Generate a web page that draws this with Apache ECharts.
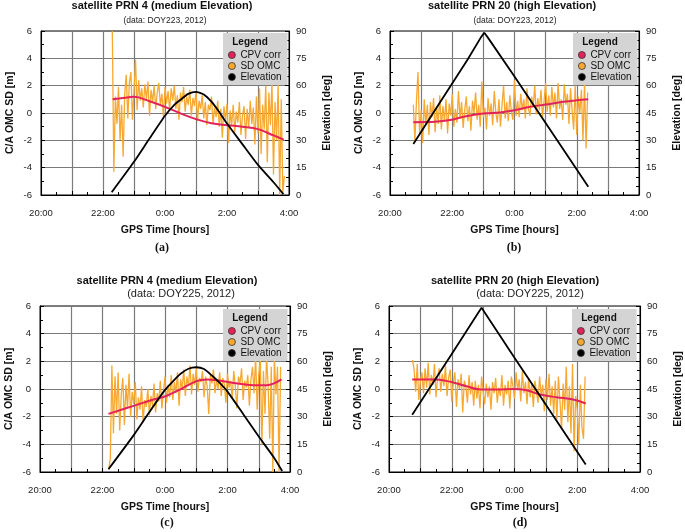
<!DOCTYPE html>
<html><head><meta charset="utf-8">
<script src="https://cdn.jsdelivr.net/npm/echarts@6/dist/echarts.min.js"></script>
<style>html,body{margin:0;padding:0;background:#fff}#c{width:685px;height:532px}</style>
</head><body><div id="c"></div>
<script>
// ---------- data ----------
const xTickLabels = ['20:00','','22:00','','0:00','','2:00','','4:00'];
const xMinHour = -4;
const panelTitles = ['satellite PRN 4 (medium Elevation)','satellite PRN 20 (high Elevation)','satellite PRN 4 (medium Elevation)','satellite PRN 20 (high Elevation)'];
const panelSubtitles = ['(data: DOY223, 2012)','(data: DOY223, 2012)','(data: DOY225, 2012)','(data: DOY225, 2012)'];
const panelCaptions = ['(a)','(b)','(c)','(d)'];
const seriesNames = ['CPV corr','SD OMC','Elevation'];
const omcStep = 0.05;

// panel (a)
const omcAStart = -1.70;
const omcA = [6.0,-4.3,1.2,-0.8,1.9,-2.0,0.6,-3.2,1.4,2.8,
 -0.4,2.2,3.0,-0.5,1.6,3.9,0.2,2.4,0.9,1.8,
 0.4,2.1,1.0,2.3,-0.2,1.7,0.8,2.0,0.3,1.5,
 2.2,0.6,1.4,-0.3,1.9,0.7,1.6,0.2,1.8,0.9,
 2.0,0.3,1.3,-0.5,1.5,0.8,1.9,0.1,1.2,0.6,
 1.7,-0.2,1.1,0.5,1.6,-0.6,0.9,0.3,1.3,-0.4,
 0.8,-0.9,0.6,0.2,1.2,-0.8,0.4,-0.3,0.9,-1.0,
 0.3,-1.8,0.5,-0.6,0.7,-2.2,0.2,-0.9,0.6,-1.4,
 0.1,-0.7,0.8,-1.6,-0.2,0.5,-1.9,0.3,-1.1,0.9,
 -0.8,0.4,-2.3,1.2,-1.5,1.8,-3.0,0.6,-1.2,2.0,
 -3.6,1.5,-0.9,2.2,-4.5,0.8,-2.0,2.1,-6.0,1.0,
 -5.8,-4.6];
const cpvA = [[-1.69,1.0],[-1.3,1.12],[-1.0,1.18],[-0.5,0.86],[0,0.45],[0.5,-0.03],[1.0,-0.45],[1.5,-0.75],[2.0,-0.89],[2.5,-1.0],[3.0,-1.18],[3.5,-1.64],[3.83,-1.95]];
const elevA = [[-1.72,1.5],[-1,18.2],[-0.5,31],[0,43.5],[0.3,49.5],[0.5,52.3],[0.75,55.5],[1.0,56.6],[1.25,55.2],[1.5,51.2],[1.75,45.5],[2.0,39.2],[2.5,27.8],[3.0,16.5],[3.5,7],[3.82,0.5]];

// panel (b)
const omcBStart = -3.25;
const omcB = [0.6,-2.1,0.9,3.0,-1.5,0.2,-2.2,1.0,-0.9,0.6,
 -1.6,0.8,-0.3,1.1,-1.4,0.4,-0.8,1.3,-1.2,0.5,
 -0.6,1.0,-1.5,0.7,-0.2,1.4,-1.0,0.3,-0.7,1.6,
 -0.4,0.8,-1.1,0.2,1.2,-0.6,0.5,-1.3,0.9,0.0,
 1.5,-0.5,0.6,-1.0,2.3,-0.3,0.4,-1.2,1.1,-0.2,
 0.7,-0.9,1.6,0.0,-0.7,1.0,-1.0,0.6,2.0,-0.4,
 0.8,-0.6,1.3,0.1,-0.5,2.4,-0.2,0.9,-0.3,1.4,
 0.2,1.0,-0.4,1.8,0.3,-0.2,1.2,0.4,2.0,-0.1,
 1.1,0.2,1.7,-0.3,0.9,2.2,0.1,1.3,-0.2,1.9,
 0.4,1.5,-0.4,2.2,0.3,1.0,-0.5,2.1,0.6,1.4,
 -0.8,1.8,0.2,-1.2,2.0,-1.6,1.2,0.0,1.7,-2.0,
 2.2,-2.6,1.5];
const cpvB = [[-3.25,-0.67],[-2.8,-0.66],[-2.4,-0.6],[-2.07,-0.52],[-1.64,-0.28],[-1.0,-0.04],[-0.46,0.04],[0,0.2],[0.5,0.45],[1.0,0.62],[1.57,0.82],[2.0,0.93],[2.37,1.0]];
const elevB = [[-3.25,28],[-2.5,48],[-1.5,74.5],[-1.08,86.5],[-0.97,89],[-0.86,86.5],[0,65],[1,39.5],[2,14],[2.37,4.5]];

// panel (c)
const omcCStart = -1.80;
const omcC = [-5.8,-5.0,1.7,-3.2,0.9,-1.8,1.2,-3.0,-0.4,0.8,
 -2.6,0.3,-1.4,1.1,-2.0,-0.2,-1.1,0.5,-2.2,-0.6,
 -1.5,0.2,-2.4,-0.8,-1.3,0.0,-1.9,-0.5,-1.2,0.4,
 -1.7,-0.3,-0.9,0.6,-1.4,-0.2,0.9,-1.0,0.3,-0.6,
 1.0,-0.8,0.5,-0.3,1.2,-1.2,0.7,0.0,1.4,-0.5,
 0.9,0.2,1.7,-0.4,1.1,0.3,1.5,-0.2,0.8,0.5,
 1.3,-0.6,0.9,0.2,-1.8,1.0,0.4,1.4,-0.3,0.7,
 0.0,1.2,-0.5,0.8,0.3,-1.0,1.1,0.1,0.6,-0.7,
 1.3,0.2,-1.4,0.9,0.4,1.5,-0.8,0.6,0.1,1.0,
 -1.2,0.7,1.6,-0.3,2.4,-1.5,1.0,2.2,-4.0,1.3,
 -1.8,2.4,0.2,-3.6,1.6,-6.0,2.3,-0.4,1.6,-6.0,
 1.6];
const cpvC = [[-1.81,-1.8],[-0.98,-1.2],[-0.37,-0.76],[0.02,-0.52],[0.48,-0.04],[1.01,0.57],[1.33,0.69],[1.65,0.64],[2.19,0.44],[2.83,0.28],[3.25,0.28],[3.73,0.69]];
const elevC = [[-1.81,1.5],[-1,20],[-0.5,32.5],[0,44.5],[0.3,50],[0.5,53.3],[0.75,56],[1.0,56.8],[1.25,55.8],[1.5,52.3],[1.75,48.3],[2.0,43.6],[2.5,31.5],[3.0,19.2],[3.5,7.5],[3.75,0.5]];

// panel (d)
const omcDStart = -3.25;
const omcD = [2.1,1.4,-0.2,1.8,-0.8,0.6,1.2,-0.3,1.5,0.1,
 1.9,-0.4,1.0,0.3,1.8,-0.6,0.9,1.5,-0.2,1.1,
 0.2,1.7,-0.5,0.8,1.4,-0.9,0.5,1.2,-1.3,0.7,
 0.0,1.1,-1.7,0.6,0.2,-1.0,1.0,-0.4,0.5,-1.2,
 0.6,-0.7,0.3,-1.4,0.9,-0.2,-1.1,0.4,-0.6,0.2,
 -1.5,0.5,-0.3,0.8,-1.0,0.1,-0.5,1.0,-1.2,0.3,
 -0.4,0.6,-1.4,0.9,0.2,-0.7,1.2,-0.1,0.7,-0.9,
 1.3,-0.3,0.5,-1.1,0.8,-0.6,0.4,-1.3,0.6,-0.2,
 -1.0,0.9,-0.5,0.3,-1.6,0.7,-0.8,1.1,-1.2,0.2,
 -1.8,0.6,-2.2,0.9,-0.9,-2.9,0.4,-1.5,1.6,-2.4,
 0.2,-3.2,1.8,-4.5,-0.5,-1.5,-4.0,0.3,-2.8,-3.6,
 0.9];
const cpvD = [[-3.26,0.69],[-2.49,0.69],[-2.01,0.5],[-1.53,0.2],[-1.05,-0.04],[-0.57,-0.04],[-0.01,0.0],[0.38,-0.09],[0.81,-0.4],[1.34,-0.6],[1.87,-0.76],[2.27,-1.05]];
const elevD = [[-3.26,31],[-2,64],[-1.15,86.5],[-1.05,89],[-0.95,86.5],[0,62],[1,36.5],[2.27,4]];

// ---------- layout / style ----------
const FONT = '"Liberation Sans", Arial, Helvetica, sans-serif';
const SERIF = '"Liberation Serif", "Times New Roman", serif';
const grids = [
  {left: 41, top: 31, width: 248, height: 164},
  {left: 390, top: 31, width: 249, height: 164},
  {left: 40, top: 306, width: 250, height: 166},
  {left: 389, top: 306, width: 251, height: 166}
];
const titlePos = [[162,6],[512,6],[167,281],[515,281]];
const subPos = [[165,20.5],[515,20.5],[181,294],[530,294]];
const subSize = [8.5,8.5,11,11];
const capPos = [[162,248],[514,248],[167,523],[520,523]];
const legendPos = [[223,33],[573,33],[223,309],[572,309]];
const omcSets = [[omcAStart,omcA],[omcBStart,omcB],[omcCStart,omcC],[omcDStart,omcD]];
const cpvSets = [cpvA,cpvB,cpvC,cpvD];
const elevSets = [elevA,elevB,elevC,elevD];
const elevSmooth = [0.2,false,0.2,false];

const C_OMC = '#f8a830', C_CPV = '#e2235a', C_EL = '#000000', C_GRID = '#7a7a7a';

const xAxes = [], yAxes = [], series = [], legends = [], graphics = [];
grids.forEach((g, i) => {
  xAxes.push({
    type: 'value', gridIndex: i, min: -4, max: 4, interval: 1,
    name: 'GPS Time [hours]', nameLocation: 'middle', nameGap: 30,
    nameTextStyle: {fontFamily: FONT, fontWeight: 'bold', fontSize: 10.5, color: '#111'},
    axisLine: {show: true, onZero: false, lineStyle: {color: '#000', width: 1}},
    axisTick: {show: true, inside: true, length: 4, lineStyle: {color: '#000'}},
    minorTick: {show: true, splitNumber: 2, length: 3, lineStyle: {color: '#000'}},
    splitLine: {show: true, lineStyle: {color: C_GRID, width: 1.2}},
    axisLabel: {fontFamily: FONT, fontSize: 9.5, color: '#222', margin: 13,
      formatter: v => xTickLabels[Math.round(v - xMinHour)] || ''}
  });
  yAxes.push({
    type: 'value', gridIndex: i, position: 'left', min: -6, max: 6, interval: 2,
    name: 'C/A OMC SD [m]', nameLocation: 'middle', nameGap: 25, nameRotate: 90,
    nameTextStyle: {fontFamily: FONT, fontWeight: 'bold', fontSize: 10.5, color: '#111'},
    axisLine: {show: true, onZero: false, lineStyle: {color: '#000', width: 1}},
    axisTick: {show: true, inside: true, length: 4, lineStyle: {color: '#000'}},
    minorTick: {show: true, splitNumber: 2, length: 3, lineStyle: {color: '#000'}},
    splitLine: {show: true, lineStyle: {color: C_GRID, width: 1.2}},
    axisLabel: {fontFamily: FONT, fontSize: 9.5, color: '#222', margin: 9}
  });
  yAxes.push({
    type: 'value', gridIndex: i, position: 'right', min: 0, max: 90, interval: 15,
    name: 'Elevation [deg]', nameLocation: 'middle', nameGap: 33, nameRotate: 90,
    nameTextStyle: {fontFamily: FONT, fontWeight: 'bold', fontSize: 10.5, color: '#111'},
    axisLine: {show: true, onZero: false, lineStyle: {color: '#000', width: 1}},
    axisTick: {show: true, inside: true, length: 4, lineStyle: {color: '#000'}},
    minorTick: {show: true, splitNumber: 3, length: 3, lineStyle: {color: '#000'}},
    splitLine: {show: false},
    axisLabel: {fontFamily: FONT, fontSize: 9.5, color: '#222', margin: 7}
  });
  const [st, vals] = omcSets[i];
  series.push({
    type: 'line', name: 'SD OMC', xAxisIndex: i, yAxisIndex: 2*i,
    data: vals.map((v, k) => [st + k*omcStep, v]),
    showSymbol: false, symbol: 'circle', lineStyle: {color: C_OMC, width: 1.3},
    itemStyle: {color: C_OMC}, z: 2
  });
  series.push({
    type: 'line', name: 'CPV corr', xAxisIndex: i, yAxisIndex: 2*i,
    data: cpvSets[i], smooth: 0.4, showSymbol: false, symbol: 'circle',
    lineStyle: {color: C_CPV, width: 2}, itemStyle: {color: C_CPV}, z: 3
  });
  series.push({
    type: 'line', name: 'Elevation', xAxisIndex: i, yAxisIndex: 2*i+1,
    data: elevSets[i], smooth: elevSmooth[i], showSymbol: false, symbol: 'circle',
    lineStyle: {color: C_EL, width: 1.8}, itemStyle: {color: C_EL}, z: 4
  });
  legends.push({
    left: legendPos[i][0], top: legendPos[i][1], orient: 'vertical',
    data: seriesNames, selectedMode: false,
    backgroundColor: '#d4d4d4', padding: [17, 6, 3, 5], itemGap: 1,
    itemWidth: 7, itemHeight: 7, icon: 'circle',
    itemStyle: {borderColor: '#333', borderWidth: 0.8},
    textStyle: {fontFamily: FONT, fontSize: 10, color: '#111'}
  });
  graphics.push({type: 'text', x: titlePos[i][0], y: titlePos[i][1], z: 10,
    style: {text: panelTitles[i], textAlign: 'center', textVerticalAlign: 'middle',
      font: 'bold 11px ' + FONT, fill: '#111'}});
  graphics.push({type: 'text', x: subPos[i][0], y: subPos[i][1], z: 10,
    style: {text: panelSubtitles[i], textAlign: 'center', textVerticalAlign: 'middle',
      font: subSize[i] + 'px ' + FONT, fill: '#222'}});
  graphics.push({type: 'text', x: capPos[i][0], y: capPos[i][1], z: 10,
    style: {text: panelCaptions[i], textAlign: 'center', textVerticalAlign: 'middle',
      font: 'bold 12px ' + SERIF, fill: '#111'}});
  graphics.push({type: 'text', x: legendPos[i][0] + 27, y: legendPos[i][1] + 9, z: 100,
    style: {text: 'Legend', textAlign: 'center', textVerticalAlign: 'middle',
      font: 'bold 10px ' + FONT, fill: '#111'}});
});

const chart = echarts.init(document.getElementById('c'), null, {renderer: 'canvas'});
chart.setOption({
  animation: false,
  backgroundColor: '#fff',
  grid: grids.map(g => Object.assign({show: true, borderColor: '#000', borderWidth: 1, backgroundColor: 'transparent'}, g)),
  xAxis: xAxes,
  yAxis: yAxes,
  legend: legends,
  series: series,
  graphic: graphics
});
</script>
</body></html>
